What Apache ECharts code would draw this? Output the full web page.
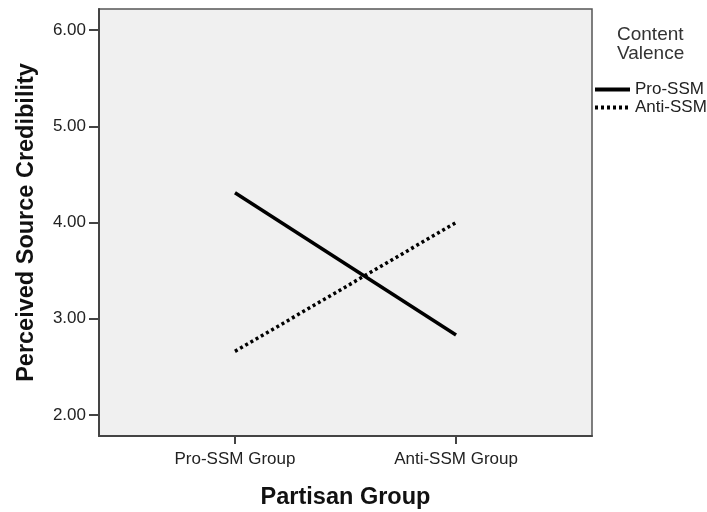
<!DOCTYPE html>
<html><head><meta charset="utf-8">
<script src="https://cdn.jsdelivr.net/npm/echarts@6/dist/echarts.min.js"></script>
<style>html,body{margin:0;padding:0;background:#fff}#c{width:707px;height:512px}</style>
</head><body><div id="c"></div>
<script>
const categories = ['Pro-SSM Group', 'Anti-SSM Group'];
const seriesNames = ['Pro-SSM', 'Anti-SSM'];
const proSSM = [4.31, 2.83];
const antiSSM = [2.66, 4.00];
const yTicks = [2, 3, 4, 5, 6];

const chart = echarts.init(document.getElementById('c'));
const font = 'Liberation Sans, Arial, sans-serif';
chart.setOption({
  animation: false,
  grid: {left: 99, right: 115, top: 9, bottom: 76, containLabel: false, outerBoundsMode: 'none',
         show: true, backgroundColor: '#f0f0f0', borderColor: '#555', borderWidth: 1.5},
  legend: {
    data: seriesNames, orient: 'vertical', left: 593, top: 81, padding: 0, itemWidth: 35, itemHeight: 14, itemGap: 1,
    itemStyle: {color: 'rgba(0,0,0,0)', borderColor: 'rgba(0,0,0,0)', borderWidth: 0, opacity: 0},
    lineStyle: {width: 4},
    textStyle: {fontFamily: font, fontSize: 17, color: '#222'}
  },
  graphic: [{type: 'text', left: 617, top: 25, style: {text: 'Content\nValence', font: '19px ' + font, fill: '#333', align: 'center', lineHeight: 19}}],
  xAxis: {
    type: 'value', min: -0.615, max: 1.615,
    axisLine: {show: true, onZero: false, lineStyle: {color: '#444', width: 2}},
    axisTick: {show: true, customValues: [0, 1], length: 8, lineStyle: {color: '#444', width: 2}},
    axisLabel: {customValues: [0, 1], formatter: v => categories[Math.round(v)], fontFamily: font, fontSize: 17, color: '#222', margin: 15},
    splitLine: {show: false},
    name: 'Partisan Group', nameLocation: 'middle', nameGap: 50,
    nameTextStyle: {fontFamily: font, fontSize: 23.5, fontWeight: 'bold', color: '#111'}
  },
  yAxis: {
    type: 'value', min: 1.78, max: 6.22,
    axisLine: {show: true, onZero: false, lineStyle: {color: '#444', width: 2}},
    axisTick: {show: true, customValues: yTicks, length: 10, lineStyle: {color: '#444', width: 2}},
    axisLabel: {customValues: yTicks, formatter: v => v.toFixed(2), fontFamily: font, fontSize: 17, color: '#222', margin: 13},
    splitLine: {show: false},
    name: 'Perceived Source Credibility', nameLocation: 'middle', nameGap: 60, nameRotate: 90,
    nameTextStyle: {fontFamily: font, fontSize: 23.5, fontWeight: 'bold', color: '#111'}
  },
  series: [
    {name: seriesNames[0], type: 'line', symbol: 'none', data: proSSM.map((v, i) => [i, v]),
     lineStyle: {color: '#000', width: 3.5}, itemStyle: {color: '#000'}},
    {name: seriesNames[1], type: 'line', symbol: 'none', data: antiSSM.map((v, i) => [i, v]),
     lineStyle: {color: '#000', width: 3.5, type: [3, 3]}, itemStyle: {color: '#000'}}
  ]
});
</script></body></html>
